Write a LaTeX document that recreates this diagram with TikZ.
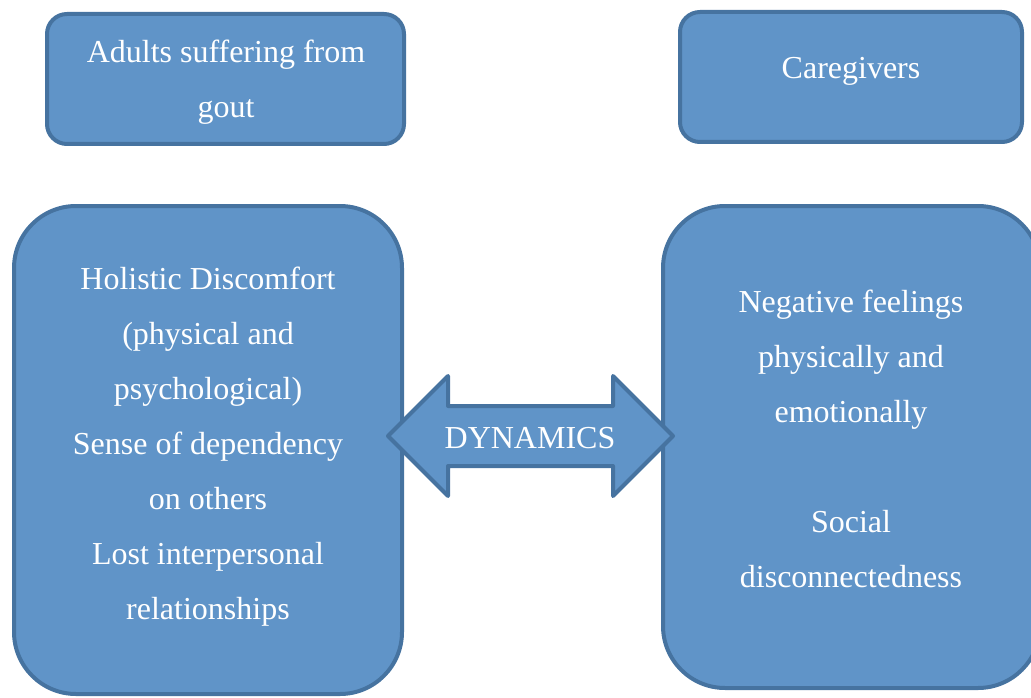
\documentclass[tikz,border=0pt]{standalone}
\usepackage{fontspec}
\setmainfont{Liberation Serif}
\definecolor{boxfill}{RGB}{96,148,200}
\definecolor{boxline}{RGB}{70,115,160}
\begin{document}
\begin{tikzpicture}[x=1pt,y=-1pt,
  panel/.style={draw=boxline, fill=boxfill, line width=4pt},
  txt/.style={text=white, font=\fontsize{32}{55}\selectfont, align=center, inner sep=0pt, anchor=base}]
\useasboundingbox (0,0) rectangle (1031,698);
% boxes
\draw[panel, rounded corners=20pt] (47,14) rectangle (404,144);
\draw[panel, rounded corners=20pt] (680,12) rectangle (1022,142);
\draw[panel, rounded corners=62pt] (14,206) rectangle (402,694);
\draw[panel, rounded corners=62pt] (663,206) rectangle (1040,688);
% double arrow
\draw[panel, line join=round] (388,436) -- (448,376) -- (448,406) -- (613,406) -- (613,376)
  -- (673,436) -- (613,496) -- (613,466) -- (448,466) -- (448,496) -- cycle;
% texts (base anchor = baseline of the last line)
\node[txt] (adults) at (226,118) {Adults suffering from\\gout};
\node[txt] (care) at (851,79) {Caregivers};
\node[txt] (left) at (208,619) {Holistic Discomfort\\(physical and\\psychological)\\Sense of dependency\\on others\\Lost interpersonal\\relationships};
\node[txt] (right) at (851,587) {Negative feelings\\physically and\\emotionally\\\mbox{}\\Social\\disconnectedness};
\node[txt] (dyn) at (530,448) {DYNAMICS};
\end{tikzpicture}
\end{document}
